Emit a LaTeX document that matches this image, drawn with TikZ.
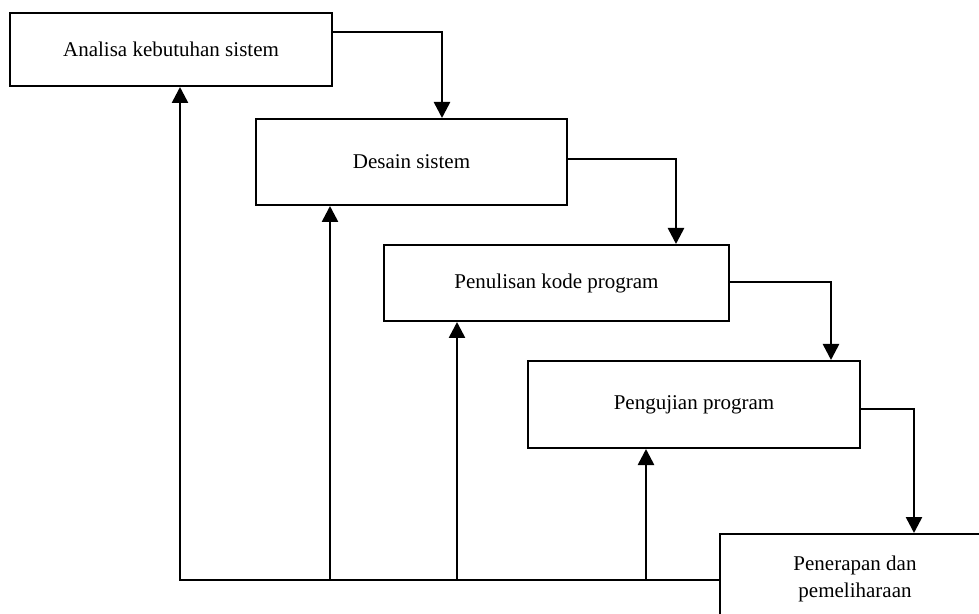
\documentclass[tikz,border=0pt]{standalone}
\usepackage{fontspec}
\setmainfont{Liberation Serif}
\usetikzlibrary{arrows.meta,calc}
\begin{document}
\begin{tikzpicture}[x=0.5pt,y=-0.5pt,
  box/.style={draw,line width=1pt,rectangle,inner sep=0pt,align=center,
    font=\fontsize{10.5}{13.5}\selectfont},
  arr/.style={line width=1.3pt,-{Triangle[width=8pt,length=8pt]}}]
\useasboundingbox (0,0) rectangle (979,614);
\clip (0,0) rectangle (979,614);
\node[box,minimum width=161pt,minimum height=36.5pt] (b1) at (171,49.5) {Analisa kebutuhan sistem};
\node[box,minimum width=155.5pt,minimum height=43pt] (b2) at (411.5,162) {Desain sistem};
\node[box,minimum width=172.5pt,minimum height=38pt] (b3) at (556.5,283) {Penulisan kode program};
\node[box,minimum width=166pt,minimum height=43.5pt] (b4) at (694,404.5) {Pengujian program};
\node[box,minimum width=135pt,minimum height=44.5pt] (b5) at (855,578.5) {Penerapan dan\\pemeliharaan};
% forward flow
\draw[arr] ([yshift=-10pt]b1.north east) -| ([xshift=93.5pt]b2.north west);
\draw[arr] ([yshift=-20.5pt]b2.north east) -| ([xshift=146.5pt]b3.north west);
\draw[arr] ([yshift=-19pt]b3.north east) -| ([xshift=152pt]b4.north west);
\draw[arr] ([yshift=-24.5pt]b4.north east) -| ([xshift=97.5pt]b5.north west);
% feedback
\coordinate (base) at ([yshift=-23.5pt]b5.north west);
\coordinate (u1) at ([xshift=4.5pt]b1.south);
\coordinate (u2) at ([xshift=37.5pt]b2.south west);
\coordinate (u3) at ([xshift=37pt]b3.south west);
\coordinate (u4) at ([xshift=59.5pt]b4.south west);
\draw[arr] (base) -| (u1);
\draw[arr] (u2 |- base) -- (u2);
\draw[arr] (u3 |- base) -- (u3);
\draw[arr] (u4 |- base) -- (u4);
\end{tikzpicture}
\end{document}
